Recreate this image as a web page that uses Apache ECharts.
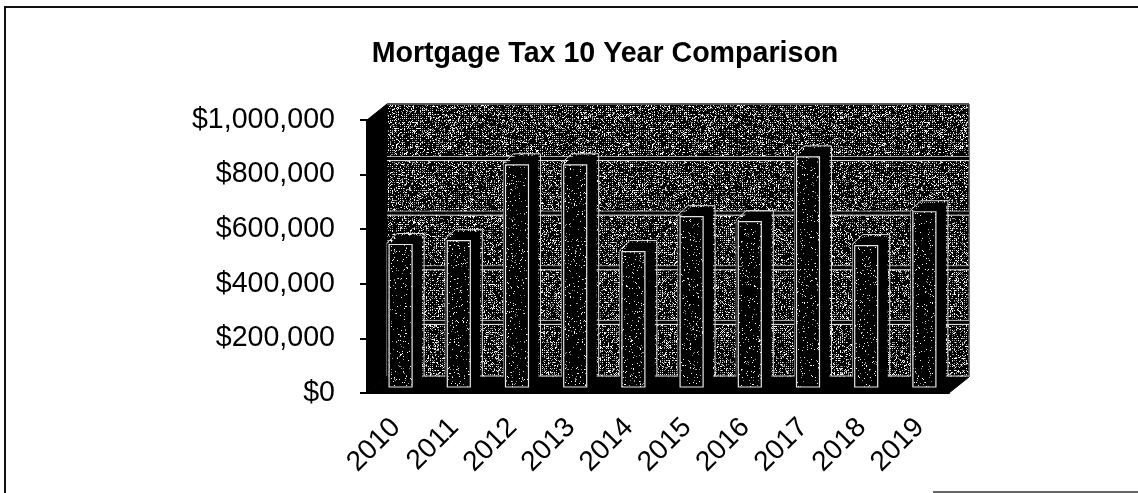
<!DOCTYPE html>
<html><head><meta charset="utf-8">
<style>html,body{margin:0;padding:0;background:#fff}#c{width:1138px;height:493px}</style>
<script src="https://cdn.jsdelivr.net/npm/echarts@6/dist/echarts.min.js"></script></head>
<body><div id="c"></div>
<script>
const years = ['2010','2011','2012','2013','2014','2015','2016','2017','2018','2019'];
const taxValues = [522000,536000,814000,814000,496000,624000,606000,843000,518000,642000];
const yTicks = [0,200000,400000,600000,800000,1000000];
const titleText = 'Mortgage Tax 10 Year Comparison';

const WALL_DX = 20, WALL_DY = -16;      // depth of the 3D box
const BAR_DX = 4.5, BAR_DY = -6, BAR_W = 23, BAR_DEPTH_X = 10, BAR_DEPTH_Y = -9;

// deterministic halftone textures (scanned-print look)
function texture(density, size, lattice) {
  const cv = document.createElement('canvas'); cv.width = cv.height = size;
  const g = cv.getContext('2d'); g.fillStyle = '#000'; g.fillRect(0,0,size,size);
  const hash = (x,y) => { const s = Math.sin(x*12.9898 + y*78.233) * 43758.5453; return s - Math.floor(s); };
  for (let y=0;y<size;y++) for (let x=0;x<size;x++) {
    const onLattice = !lattice || (x%2===0 && y%2===0);
    const d = onLattice ? density : density*0.25;
    if (hash(x,y) < d) { g.fillStyle = hash(y+7,x+3) < .5 ? '#fff' : '#999'; g.fillRect(x,y,1,1); }
  }
  return cv;
}
const wallFill = {image: texture(.6, 256, true), repeat:'repeat'};
const barFill = {image: texture(.06, 128, false), repeat:'repeat'};

function sceneItem(params, api) {
  const c = params.coordSys, L=c.x, R=c.x+c.width, T=c.y, B=c.y+c.height;
  const kids = [
    {type:'rect', shape:{x:L+WALL_DX,y:T+WALL_DY,width:c.width,height:c.height}, style:{fill:wallFill}},
    {type:'polygon', shape:{points:[[L,T],[L+WALL_DX,T+WALL_DY],[L+WALL_DX,B+WALL_DY],[L,B]]}, style:{fill:'#000',stroke:'#000',lineWidth:1}},
    {type:'polygon', shape:{points:[[L,B],[L+WALL_DX,B+WALL_DY],[R+WALL_DX,B+WALL_DY],[R,B]]}, style:{fill:'#000',stroke:'#000',lineWidth:1}},
    {type:'line', shape:{x1:L+WALL_DX,y1:T+WALL_DY,x2:R+WALL_DX,y2:T+WALL_DY}, style:{stroke:'#555',lineWidth:2}},
    {type:'line', shape:{x1:R+WALL_DX,y1:T+WALL_DY,x2:R+WALL_DX,y2:B+WALL_DY}, style:{stroke:'#444',lineWidth:1.5}},
    {type:'line', shape:{x1:L+WALL_DX,y1:B+WALL_DY-1,x2:R+WALL_DX,y2:B+WALL_DY-1}, style:{stroke:'#ddd',lineWidth:1}}
  ];
  yTicks.slice(1,-1).forEach(v => {
    const y = api.coord([0,v])[1] + WALL_DY;
    kids.push({type:'line', shape:{x1:L+WALL_DX,y1:y-2,x2:R+WALL_DX,y2:y-2}, style:{stroke:'#b5b5b5',lineWidth:1}});
    kids.push({type:'line', shape:{x1:L+WALL_DX,y1:y,x2:R+WALL_DX,y2:y}, style:{stroke:'#000',lineWidth:3}});
    kids.push({type:'line', shape:{x1:L+WALL_DX,y1:y+2,x2:R+WALL_DX,y2:y+2}, style:{stroke:'#eee',lineWidth:1}});
  });
  return {type:'group', children:kids};
}
function barItem(params, api) {
  const top = api.coord([api.value(0), api.value(1)]);
  const base = api.coord([api.value(0), 0]);
  const x0 = top[0]+BAR_DX-BAR_W/2, x1 = x0+BAR_W, y0 = top[1]+BAR_DY, y1 = base[1]+BAR_DY;
  const wallBase = base[1]+WALL_DY-1;
  const p = 2;
  return {type:'group', children:[
    {type:'polygon', shape:{points:[
      [x0,y1],[x0,y0],[x0+BAR_DEPTH_X,y0+BAR_DEPTH_Y],
      [x1+BAR_DEPTH_X,y0+BAR_DEPTH_Y],[x1+BAR_DEPTH_X,y1+BAR_DEPTH_Y],[x1,y1]]},
      style:{fill:'#000'}},
    {type:'polyline', shape:{points:[
      [x0-p,wallBase],[x0-p,y0+BAR_DEPTH_Y*0.2],[x0+BAR_DEPTH_X-p,y0+BAR_DEPTH_Y-p],
      [x1+BAR_DEPTH_X+p,y0+BAR_DEPTH_Y-p],[x1+BAR_DEPTH_X+p,wallBase]]},
      style:{fill:null,stroke:'#d8d8d8',lineWidth:1}},
    {type:'rect', shape:{x:x0-p,y:y0+BAR_DEPTH_Y*0.2+1,width:p-0.5,height:y1-y0}, style:{fill:'#000'}},
    {type:'rect', shape:{x:x0,y:y0,width:BAR_W,height:y1-y0}, style:{fill:barFill,stroke:'#e6e6e6',lineWidth:1.2}}
  ]};
}
const chart = echarts.init(document.getElementById('c'), null, {renderer:'canvas'});
chart.setOption({
  animation:false,
  backgroundColor:'#fff',
  title:{text:titleText,left:600,top:35,textAlign:'center',
    textStyle:{fontFamily:'Liberation Sans',fontWeight:'bold',fontSize:28.6,color:'#000'}},
  grid:{left:367,right:189,top:120,bottom:100,containLabel:false},
  xAxis:{type:'category',data:years,
    axisLine:{lineStyle:{color:'#000',width:2}},
    axisTick:{alignWithLabel:false,length:7,lineStyle:{color:'#000',width:1.5}},
    axisLabel:{rotate:45,fontFamily:'Liberation Sans',fontSize:28,color:'#000',margin:30,interval:0}},
  yAxis:{type:'value',min:0,max:1000000,interval:200000,
    axisLine:{show:true,lineStyle:{color:'#000',width:2}},
    axisTick:{show:true,length:7,lineStyle:{color:'#000',width:2}},
    splitLine:{show:false},
    axisLabel:{formatter:v=>'$'+v.toLocaleString('en-US'),fontFamily:'Liberation Sans',fontSize:28.6,color:'#000',margin:32}},
  series:[
    {type:'custom',name:'wall',data:[[0,0]],renderItem:sceneItem,clip:false,z:1,silent:true},
    {type:'custom',name:'Mortgage Tax',data:taxValues.map((v,i)=>[i,v]),encode:{x:0,y:1},renderItem:barItem,clip:false,z:2}
  ],
  graphic:[{type:'polyline',silent:true,shape:{points:[[1138,7],[5,7],[5,493]]},style:{fill:null,stroke:'#111',lineWidth:2}},
           {type:'line',silent:true,shape:{x1:933,y1:492,x2:1138,y2:492},style:{stroke:'#333',lineWidth:1.5}}]
});
</script></body></html>
